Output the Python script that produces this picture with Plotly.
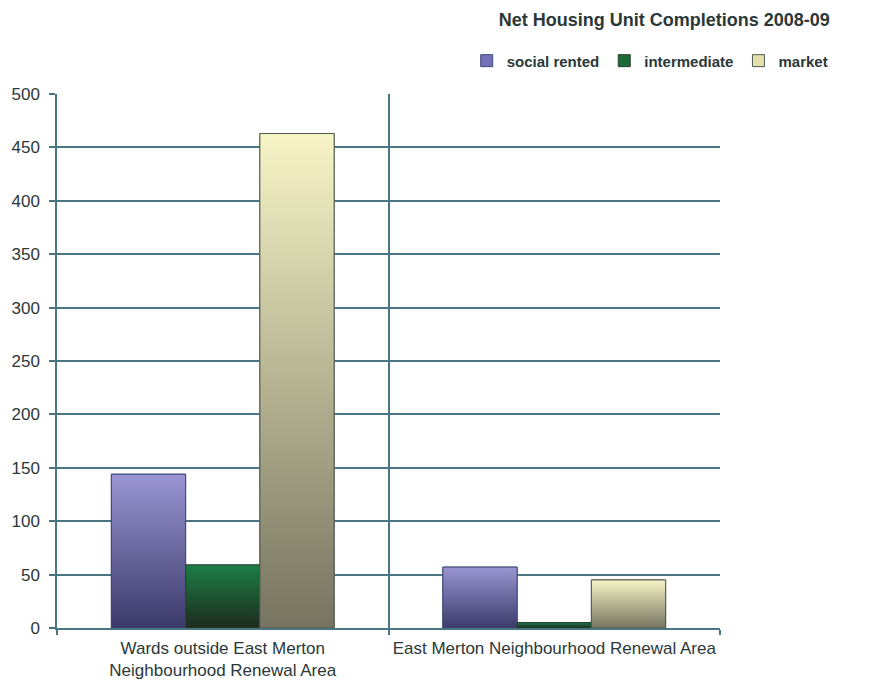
import plotly.graph_objects as go

# Net housing unit completions 2008-09, by area and tenure
areas = ["Wards outside East Merton<br>Neighbourhood Renewal Area",
         "East Merton Neighbourhood Renewal Area"]
tenures = ["social rented", "intermediate", "market"]
social_rented = [144, 57]
intermediate = [59, 5]
market = [463, 45]
series_values = [social_rented, intermediate, market]
y_ticks = [0, 50, 100, 150, 200, 250, 300, 350, 400, 450, 500]

# bottom -> top colour of each tenure's vertical gradient, plus a mid tone for the legend key
gradients = {
    "social rented": ("#3b3a6a", "#9a95d2"),
    "intermediate": ("#1f2a1d", "#1b7e46"),
    "market": ("#767360", "#f7f5c6"),
}
swatch = {"social rented": "#7570b8", "intermediate": "#1d6a3a", "market": "#e4e0ae"}
outline = {"social rented": "#3d4a78", "intermediate": "#27402c", "market": "#4f5a50"}

BAR_W = 0.224  # width of one bar in category units
x_idx = list(range(len(areas)))
fig = go.Figure()

for s, (name, values) in enumerate(zip(tenures, series_values)):
    offset = (s - 1.5) * BAR_W
    # the bars themselves (also provide the legend keys)
    fig.add_trace(go.Bar(
        x=x_idx, y=values, width=BAR_W, offset=offset, name=name,
        marker=dict(color=swatch[name], line=dict(color=outline[name], width=1)),
        hoverinfo="skip",
    ))
    # vertical gradient shading laid over each bar
    bottom, top = gradients[name]
    for i, v in zip(x_idx, values):
        x0 = i + offset
        x1 = x0 + BAR_W
        fig.add_trace(go.Scatter(
            x=[x0, x0, x1, x1, x0],
            y=[0, v, v, 0, 0],
            mode="lines",
            fill="toself",
            fillgradient=dict(type="vertical", colorscale=[[0, bottom], [1, top]]),
            line=dict(color=outline[name], width=1),
            showlegend=False,
            hoverinfo="skip",
        ))

grid = "#4a7583"
font_col = "#2b3838"

fig.update_layout(
    width=880, height=685,
    margin=dict(l=57, r=160, t=94, b=57, autoexpand=False),
    paper_bgcolor="white", plot_bgcolor="white",
    font=dict(family="Liberation Sans, Arial, sans-serif", color=font_col),
    title=dict(text="<b>Net Housing Unit Completions 2008-09</b>",
               x=0.943, xanchor="right", y=0.971, yanchor="middle",
               font=dict(size=18, color=font_col)),
    legend=dict(orientation="h", x=1.17, xanchor="right", y=1.062, yanchor="middle",
                font=dict(size=15, color=font_col, weight="bold"),
                itemwidth=30, traceorder="normal", bgcolor="rgba(0,0,0,0)"),
    showlegend=True,
    barmode="overlay",
)

fig.update_yaxes(
    range=[0, 500], tickvals=y_ticks, ticks="outside", ticklen=6, tickcolor=grid,
    tickwidth=1.5, showgrid=True, gridcolor=grid, gridwidth=1.5,
    showline=True, linecolor=grid, linewidth=1.5, automargin=False,
    tickfont=dict(size=17, color=font_col), zeroline=False, ticklabelstandoff=6,
)
fig.update_xaxes(
    range=[-0.5, 1.5], tickvals=x_idx, ticktext=areas, ticks="",
    showgrid=False, zeroline=False, automargin=False,
    showline=True, linecolor=grid, linewidth=1.5, mirror=False,
    tickfont=dict(size=17, color=font_col), ticklabelstandoff=4,
    minor=dict(tick0=-0.5, dtick=1, ticks="outside", ticklen=5, tickcolor=grid,
               tickwidth=1.5, showgrid=True, gridcolor=grid, gridwidth=1.5),
)

fig.write_html("out.html")
